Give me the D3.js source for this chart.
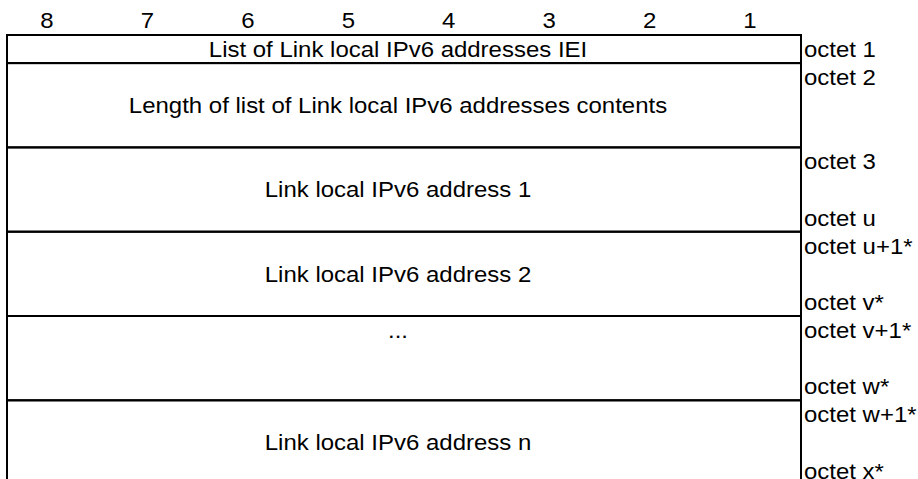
<!DOCTYPE html>
<html>
<head>
<meta charset="utf-8">
<script src="https://cdn.jsdelivr.net/npm/d3@7"></script>
<style>
  html, body { margin: 0; padding: 0; background: #fff; }
  svg text { font-family: Arial, "Liberation Sans", Helvetica, sans-serif; fill: #000; }
</style>
</head>
<body>
<svg id="chart" width="918" height="479"></svg>
<script>
// ---- data ----
const bitLabels = ["8", "7", "6", "5", "4", "3", "2", "1"];
const fieldNames = [
  "List of Link local IPv6 addresses IEI",
  "Length of list of Link local IPv6 addresses contents",
  "Link local IPv6 address 1",
  "Link local IPv6 address 2",
  "...",
  "Link local IPv6 address n"
];
const fieldSpans = [1, 3, 3, 3, 3, 3];           // height of each field in row units
const octetTop = ["octet 1", "octet 2", "octet 3", "octet u+1*", "octet v+1*", "octet w+1*"];
const octetBottom = ["", "", "octet u", "octet v*", "octet w*", "octet x*"];
const textAlign = ["middle", "middle", "middle", "middle", "top", "middle"];

// ---- layout ----
const svg = d3.select("#chart");
const tblLeft = 7, tblRight = 801, tblTop = 35;
const fs = 22, sx = 1.09;

const cumulative = [0];
fieldSpans.forEach(s => cumulative.push(cumulative[cumulative.length - 1] + s));
const yScale = d3.scaleLinear().domain([0, 1]).range([tblTop, tblTop + 28.1]);
const xScale = d3.scalePoint().domain(bitLabels).range([47, 750]);

function place(sel, fx, fy) {
  sel.attr("transform", (d, i) => `translate(${fx(d, i)},${fy(d, i)}) scale(${sx},1)`);
}

// bit numbers
svg.append("g").selectAll("text").data(bitLabels).join("text")
  .attr("text-anchor", "middle").attr("font-size", fs)
  .text(d => d)
  .call(place, d => xScale(d), () => 28);

const rows = fieldNames.map((name, i) => ({
  name, y0: yScale(cumulative[i]), y1: yScale(cumulative[i + 1]),
  topLbl: octetTop[i], botLbl: octetBottom[i], align: textAlign[i]
}));

const g = svg.append("g");
g.selectAll("rect").data(rows).join("rect")
  .attr("x", tblLeft).attr("y", d => d.y0)
  .attr("width", tblRight - tblLeft).attr("height", d => d.y1 - d.y0)
  .attr("fill", "none").attr("stroke", "#000").attr("stroke-width", 2);

const cx = (tblLeft + tblRight) / 2 - 6;
g.selectAll("text.name").data(rows).join("text").attr("class", "name")
  .attr("text-anchor", "middle").attr("font-size", fs)
  .text(d => d.name)
  .call(place, () => cx, d => d.align === "top" ? d.y0 + 22 : (d.y0 + d.y1) / 2 + fs * 0.36);

g.selectAll("text.ot").data(rows).join("text").attr("class", "ot")
  .attr("font-size", fs).text(d => d.topLbl)
  .call(place, () => tblRight + 3, d => d.y0 + 22);
g.selectAll("text.ob").data(rows.filter(d => d.botLbl)).join("text").attr("class", "ob")
  .attr("font-size", fs).text(d => d.botLbl)
  .call(place, () => tblRight + 3, d => d.y1 - 6);
</script>
</body>
</html>
